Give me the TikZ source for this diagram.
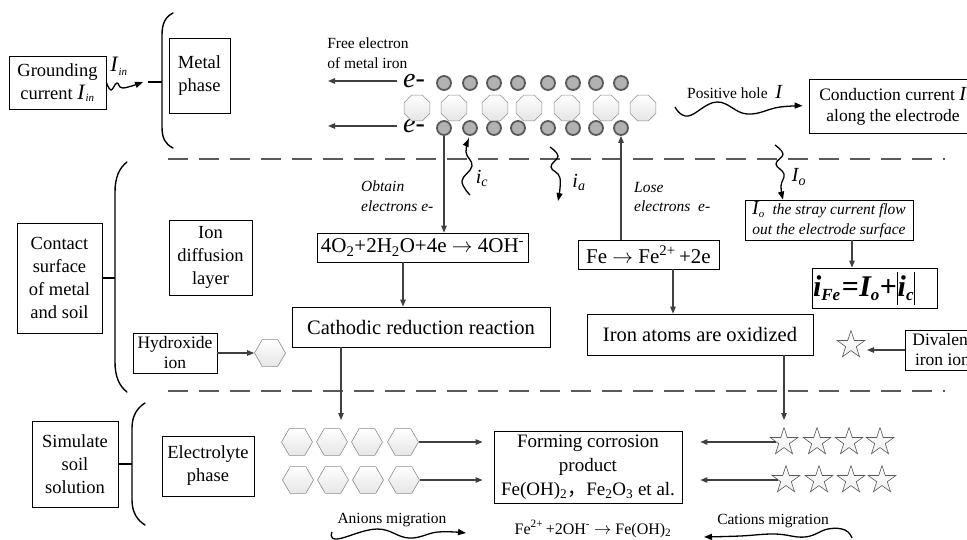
\documentclass[tikz,border=0pt]{standalone}
\usepackage{fontspec}
\setmainfont{Liberation Serif}
\newfontfamily\cjk{Noto Sans CJK SC}
\usetikzlibrary{shapes.geometric,arrows.meta}
\newcommand\fsz[2]{\fontsize{#1}{#2}\selectfont}
\newcommand\Iin{\textit{\fsz{22}{22}I}\textsubscript{\fsz{11}{11}\textit{in}}}
\definecolor{lg}{HTML}{404040}
\definecolor{dg}{HTML}{5A5A5A}
\begin{document}
\begin{tikzpicture}[x=1pt,y=-1pt,
  box/.style={draw=black, line width=0.8pt, inner sep=1pt, align=center, font=\fsz{18.5}{23}},
  arr/.style={draw=lg, line width=1.1pt, -{Triangle[length=7pt,width=5.5pt]}},
  wav/.style={draw=black, line width=1.3pt, -{Triangle[length=8pt,width=6pt]}},
  brc/.style={draw=black, line width=1.4pt, line cap=round},
  sepline/.style={draw=dg, line width=2.8pt, dash pattern=on 20pt off 11pt},
  elec/.style={circle, minimum size=14pt, inner sep=0pt, draw=black!65, line width=1.8pt, fill=black!30},
  octa/.style={regular polygon, regular polygon sides=8, minimum size=28pt, inner sep=0pt, draw=black!45, line width=0.6pt, top color=white, bottom color=black!10},
  hexa/.style={regular polygon, regular polygon sides=6, minimum size=31pt, inner sep=0pt, draw=black!45, line width=0.6pt, top color=white, bottom color=black!10},
  stra/.style={star, star points=5, star point ratio=2.6, minimum size=29pt, inner sep=0pt, draw=black!65, line width=0.6pt, top color=white, bottom color=black!6},
  lbl/.style={inner sep=0pt, align=center}
]
\useasboundingbox (0,0) rectangle (967,539);
\clip (0,0) rectangle (967,539);

% ---------------- top: metal phase ----------------
\node[box, minimum width=97pt, minimum height=53pt] (ground) at (57.5,82.5) {Grounding\\current \Iin};
\node[lbl] (iinl) at (119,66) {\Iin};
\node[box, minimum width=61pt, minimum height=75pt] (metal) at (199.5,75.5) {Metal\\phase};
\draw[brc] (173,13) .. controls (165,17) and (162,24) .. (162,35) -- (162,127) .. controls (162,138) and (165,144) .. (173,148);
\coordinate (brtip1) at (162,82);
\coordinate (stub1) at (148,82);
\draw[line width=2.2pt] (stub1) -- (brtip1);
\coordinate (w1e) at (143,82);
\draw[wav] plot[smooth, tension=0.7] coordinates {(ground.east) (111,90) (117,83) (123,88) (w1e)};

\node[lbl, font=\fsz{15.5}{20}, align=left] (freel) at (368,53) {Free electron\\of metal iron};
\node[lbl, font=\fsz{28}{28}\itshape] (e1) at (414,81) {e-};
\node[lbl, font=\fsz{28}{28}\itshape] (e2) at (414,126) {e-};
\coordinate (a1) at (328,0);
\draw[arr, shorten <=6pt] (e1.west) -- (e1.west -| a1);
\draw[arr, shorten <=6pt] (e2.west) -- (e2.west -| a1);

\foreach \x [count=\i] in {444,470,494,518,548,573,596,621} {
  \node[elec] (t\i) at (\x,83) {};
  \node[elec] (b\i) at (\x,128) {};
}
\foreach \x [count=\i] in {417,454,495,529,567,606,643}
  \node[octa] (o\i) at (\x,108) {};

\node[lbl, font=\fsz{15.5}{18}] (posl) at (735,92) {Positive hole\ \ \textit{\fsz{20}{20}I}};
\node[box, font=\fsz{17.5}{21}, minimum width=168pt, minimum height=54pt] (cond) at (893,106) {Conduction current \textit{\fsz{20}{20}I}\\along the electrode};
\coordinate (w2s) at (675,107);
\draw[wav, shorten >=6pt] plot[smooth, tension=0.7] coordinates {(w2s) (688,116) (717,102) (747,114) (780,107) (cond.west)};

% separators
\coordinate (d1l) at (168,159); \coordinate (d1r) at (945,159);
\coordinate (d2l) at (168,391); \coordinate (d2r) at (945,391);
\draw[sepline] (d1l) -- (d1r);
\draw[sepline] (d2l) -- (d2r);

% ---------------- middle: contact surface ----------------
\node[box, minimum width=85pt, minimum height=110pt] (contact) at (59.5,278) {Contact\\surface\\of metal\\and soil};
\draw[brc] (127,162) .. controls (119,168) and (115,178) .. (115,192) -- (115,362) .. controls (115,376) and (119,386) .. (127,392);
\draw[brc, line cap=butt] (contact.east) -- (contact.east -| 115,0);
\node[box, minimum width=83pt, minimum height=75pt] (ion) at (210.5,257.5) {Ion\\diffusion\\layer};
\node[box, font=\fsz{17.5}{20}, minimum width=84pt, minimum height=40pt] (hydrox) at (175,353) {Hydroxide\\ion};
\node[hexa] (hex0) at (270,353) {};
\draw[arr] (hydrox.east) -- (hex0.west);

\node[lbl, font=\fsz{15.5}{19.5}\itshape, align=left, anchor=west] (obt) at (361,196) {Obtain\\electrons e-};
\node[lbl, font=\fsz{20}{20}\itshape] (icl) at (482,178) {i\textsubscript{c}};
\node[lbl, font=\fsz{20}{20}\itshape] (ial) at (579,182) {i\textsubscript{a}};
\node[lbl, font=\fsz{15.5}{19.5}\itshape, align=left, anchor=west] (lose) at (634,197) {Lose\\electrons\ \ e-};
\node[lbl, font=\fsz{20}{20}\itshape] (iol) at (799,177) {I\textsubscript{o}};

\node[box, font=\fsz{21}{21}, minimum width=211pt, minimum height=29pt, inner sep=0pt] (r1) at (422.5,247.5) {4O\textsubscript{2}+2H\textsubscript{2}O+4e $\rightarrow$ 4OH\textsuperscript{-}};
\node[box, font=\fsz{21}{21}, minimum width=141pt, minimum height=29pt, inner sep=0pt] (fe) at (648.5,254.5) {Fe $\rightarrow$ Fe\textsuperscript{2+}\,+2e};
\node[box, font=\fsz{20.5}{21}, minimum width=258pt, minimum height=40pt] (cath) at (421,327) {Cathodic reduction reaction};
\node[box, font=\fsz{20.5}{21}, minimum width=226pt, minimum height=41pt] (iron) at (700,334.5) {Iron atoms are oxidized};

\draw[arr] (b1.south) -- (b1 |- r1.north);
\draw[arr] (r1.south -| 403,0) -- (cath.north -| 403,0);
\draw[arr] (fe.north -| b8) -- (b8.south);
\draw[arr] (fe.south -| 673,0) -- (iron.north -| 673,0);

\coordinate (ics) at (470,195);
\draw[wav, shorten >=3pt] plot[smooth, tension=0.7] coordinates {(ics) (462,181) (472,166) (466,152) (b2.south)};
\coordinate (ias) at (550,147);
\coordinate (iae) at (558,201);
\draw[wav] plot[smooth, tension=0.7] coordinates {(ias) (558,156) (551,167) (560,178) (iae)};

\node[box, font=\fsz{15.5}{20}\itshape, minimum width=168pt, minimum height=40pt, inner sep=0pt] (iobox) at (829,220) {{\fsz{20}{20}I}\textsubscript{o}\ \ the stray current flow\\out the electrode surface};
\coordinate (ios) at (775,145);
\draw[wav] plot[smooth, tension=0.7] coordinates {(ios) (783,154) (776,164) (784,174) (781,186) (iobox.north -| 783,0)};

\node[draw=black, line width=0.8pt, minimum width=125pt, minimum height=40pt, inner sep=0pt, text width=123pt, align=left] (ife) at (874.5,288)
  {\fsz{30}{30}\bfseries\itshape i\textsubscript{\fsz{17}{17}Fe}\hspace{1pt}=\hspace{0.5pt}I\textsubscript{\fsz{17}{17}o}\upshape+\rule[-8pt]{0.6pt}{33pt}\itshape i\textsubscript{\fsz{17}{17}c}\rule[-8pt]{0.6pt}{33pt}};
\draw[arr] (iobox.south -| 852,0) -- (ife.north -| 852,0);

\node[stra] (star0) at (851,345) {};
\node[box, font=\fsz{17.5}{20}, minimum width=75pt, minimum height=40pt] (dival) at (942.5,350) {Divalent\\iron ion};
\coordinate (s0in) at (867,352);
\draw[arr] (dival.west) -- (dival.west -| s0in);

% ---------------- bottom: soil solution ----------------
\node[box, minimum width=86pt, minimum height=86pt] (simul) at (75,464) {Simulate\\soil\\solution};
\draw[brc] (145,403) .. controls (137,408) and (132,416) .. (132,428) -- (132,500) .. controls (132,512) and (137,520) .. (145,525);
\draw[brc, line cap=butt] (simul.east) -- (simul.east -| 132,0);
\node[box, minimum width=92pt, minimum height=60pt] (electro) at (208,466) {Electrolyte\\phase};

\foreach \x [count=\i] in {297,332,367,403} {
  \node[hexa] (ha\i) at (\x,442) {};
  \node[hexa] (hb\i) at (\x+1,480) {};
}
\node[box, font=\fsz{19}{24}, minimum width=188pt, minimum height=72pt, inner sep=0pt] (form) at (588,467) {Forming corrosion\\product\\Fe(OH)\textsubscript{2}{\cjk ，}Fe\textsubscript{2}O\textsubscript{3} et al.};
\draw[arr, shorten >=11pt] (ha4.east) -- (form.west |- ha4);
\draw[arr, shorten >=11pt] (hb4.east) -- (form.west |- hb4);

\foreach \x [count=\i] in {784,817,849,880} {
  \node[stra] (sa\i) at (\x,442) {};
  \node[stra] (sb\i) at (\x+2,480) {};
}
\draw[arr, shorten >=18pt] (sa1.west) -- (form.east |- sa1);
\draw[arr, shorten >=18pt] (sb1.west) -- (form.east |- sb1);

\coordinate (hin) at (341,420);
\draw[arr] (cath.south -| hin) -- (hin);
\coordinate (sin) at (784,420);
\draw[arr] (iron.south -| sin) -- (sin);

\node[lbl, font=\fsz{15.5}{18}] (anl) at (392,520) {Anions migration};
\coordinate (ans) at (332,532);
\coordinate (ane) at (466,533);
\draw[wav] plot[smooth, tension=0.7] coordinates {(ans) (337,539) (377,529) (409,538) (438,532) (ane)};
\node[lbl, font=\fsz{15.5}{18}] (cal) at (773,521) {Cations migration};
\coordinate (cas) at (852,538);
\coordinate (cae) at (704,537);
\draw[wav] plot[smooth, tension=0.7] coordinates {(cas) (845,530) (828,529) (805,537) (775,534) (740,536) (cae)};
\node[lbl, font=\fsz{16}{16}] (rxn) at (593,529) {Fe\textsuperscript{2+}\,+2OH\textsuperscript{-} $\rightarrow$ Fe(OH)\textsubscript{2}};
\end{tikzpicture}
\end{document}
